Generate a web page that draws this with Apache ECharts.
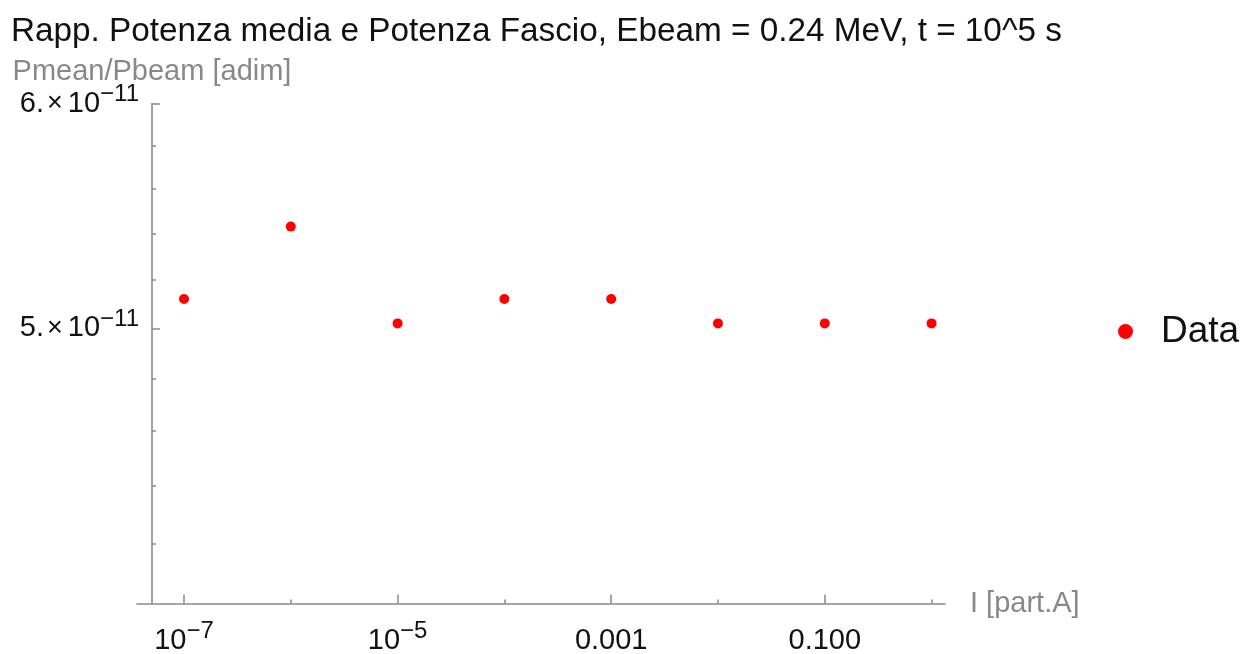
<!DOCTYPE html>
<html>
<head>
<meta charset="utf-8">
<script src="https://cdn.jsdelivr.net/npm/echarts@6/dist/echarts.min.js"></script>
<style>
html,body{margin:0;padding:0;background:#fff;}
#chart{width:1247px;height:654px;}
</style>
</head>
<body>
<div id="chart"></div>
<script>
// ---- data ----
const chartTitle = 'Rapp. Potenza media e Potenza Fascio, Ebeam = 0.24 MeV, t = 10^5 s';
const xAxisName = 'I [part.A]';
const yAxisName = 'Pmean/Pbeam [adim]';
const seriesName = 'Data';
const current = [1e-7, 1e-6, 1e-5, 1e-4, 1e-3, 1e-2, 1e-1, 1];
const ratio = [5.12e-11, 5.43e-11, 5.02e-11, 5.12e-11, 5.12e-11, 5.02e-11, 5.02e-11, 5.02e-11];
const xMajorTicks = [1e-7, 1e-5, 1e-3, 1e-1];
const xMinorTicks = [1e-6, 1e-4, 1e-2, 1];
const yMajorTicks = [5e-11, 6e-11];
const yMinorTicks = [4.2e-11, 4.4e-11, 4.6e-11, 4.8e-11, 5.2e-11, 5.4e-11, 5.6e-11, 5.8e-11];
const xRange = [3.63e-8, 1.335];
const yRange = [4e-11, 6e-11];

// ---- helpers (log-space scale) ----
const lg = v => Math.log10(v);
const FONT = '"Liberation Sans", Arial, sans-serif';
const AXIS_GRAY = '#8a8a8a';
const LABEL_COLOR = '#111111';

const richLbl = {
  b: { fontSize: 29, lineHeight: 42, color: LABEL_COLOR, fontFamily: FONT },
  x: { fontSize: 27, lineHeight: 42, color: LABEL_COLOR, fontFamily: FONT, padding: [0, 5, 0, 3] },
  s: { fontSize: 24, lineHeight: 14, verticalAlign: 'top', color: LABEL_COLOR, fontFamily: FONT }
};

function xLabel(v) {
  const e = Math.round(v);
  if (e <= -4) return '{b|10}{s|\u2212' + (-e) + '}';
  return '{b|' + Math.pow(10, e).toFixed(3) + '}';
}
function yLabel(v) {
  const val = Math.pow(10, v);
  const e = Math.floor(Math.log10(val) + 1e-9);
  const m = Math.round(val / Math.pow(10, e));
  return '{b|' + m + '.}{x|\u00d7}{b|10}{s|\u2212' + (-e) + '}';
}

const chart = echarts.init(document.getElementById('chart'), null, { renderer: 'canvas' });

const option = {
  backgroundColor: '#ffffff',
  animation: false,
  title: {
    text: chartTitle,
    left: 11,
    top: 15,
    padding: 0,
    textStyle: { fontSize: 33.3, fontWeight: 'normal', color: '#111', fontFamily: FONT }
  },
  legend: {
    data: [seriesName],
    orient: 'vertical',
    left: 1118,
    top: 313,
    padding: 0,
    icon: 'circle',
    itemWidth: 15,
    itemHeight: 15,
    textStyle: { fontSize: 37, color: '#111', fontFamily: FONT, padding: [0, 0, 0, 23] }
  },
  grid: {
    left: 137,
    right: 302,
    top: 103.5,
    bottom: 50.5,
    containLabel: false,
    outerBoundsMode: 'none'
  },
  xAxis: [
    {
      type: 'value',
      position: 'bottom',
      min: lg(xRange[0]),
      max: lg(xRange[1]),
      name: xAxisName,
      nameLocation: 'end',
      nameGap: 25,
      nameMoveOverlap: false,
      nameTextStyle: { fontSize: 29, color: '#888', fontFamily: FONT },
      splitLine: { show: false },
      axisLine: { show: true, onZero: false, lineStyle: { color: AXIS_GRAY, width: 1.6 } },
      axisTick: { show: true, inside: true, length: 9, customValues: xMajorTicks.map(lg), lineStyle: { color: AXIS_GRAY, width: 1.5 } },
      axisLabel: { show: true, margin: 16, customValues: xMajorTicks.map(lg), formatter: xLabel, rich: richLbl, hideOverlap: false }
    },
    {
      type: 'value',
      position: 'bottom',
      min: lg(xRange[0]),
      max: lg(xRange[1]),
      splitLine: { show: false },
      axisLine: { show: false, onZero: false },
      axisTick: { show: true, inside: true, length: 4, customValues: xMinorTicks.map(lg), lineStyle: { color: AXIS_GRAY, width: 1.5 } },
      axisLabel: { show: false }
    }
  ],
  yAxis: [
    {
      type: 'value',
      position: 'left',
      offset: -15,
      min: lg(yRange[0]),
      max: lg(yRange[1]),
      name: yAxisName,
      nameLocation: 'end',
      nameGap: 17,
      nameMoveOverlap: false,
      nameTextStyle: { fontSize: 29, color: '#888', fontFamily: FONT },
      splitLine: { show: false },
      axisLine: { show: true, onZero: false, lineStyle: { color: AXIS_GRAY, width: 1.6 } },
      axisTick: { show: true, inside: true, length: 8, customValues: yMajorTicks.map(lg), lineStyle: { color: AXIS_GRAY, width: 1.5 } },
      axisLabel: { show: true, margin: 13, customValues: yMajorTicks.map(lg), formatter: yLabel, rich: richLbl, hideOverlap: false }
    },
    {
      type: 'value',
      position: 'left',
      offset: -15,
      min: lg(yRange[0]),
      max: lg(yRange[1]),
      splitLine: { show: false },
      axisLine: { show: false, onZero: false },
      axisTick: { show: true, inside: true, length: 4, customValues: yMinorTicks.map(lg), lineStyle: { color: AXIS_GRAY, width: 1.5 } },
      axisLabel: { show: false }
    }
  ],
  series: [
    {
      name: seriesName,
      type: 'scatter',
      xAxisIndex: 0,
      yAxisIndex: 0,
      symbol: 'circle',
      symbolSize: 10,
      itemStyle: { color: '#ff0000', opacity: 1 },
      data: current.map((c, i) => [lg(c), lg(ratio[i])])
    }
  ]
};
chart.setOption(option);
</script>
</body>
</html>
